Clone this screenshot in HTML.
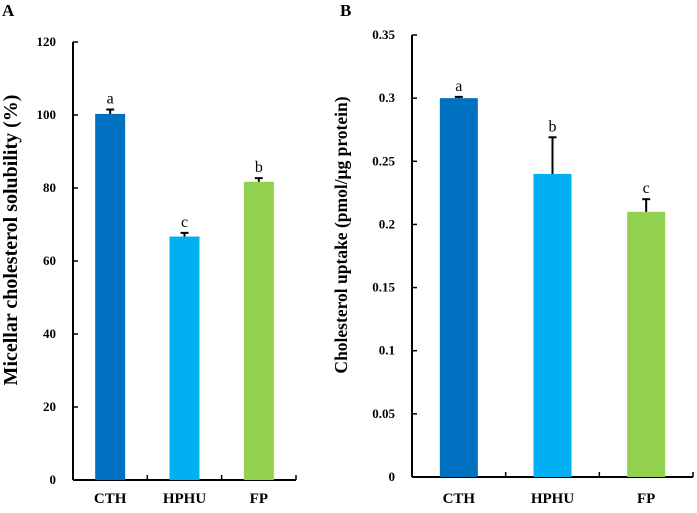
<!DOCTYPE html>
<html><head><meta charset="utf-8"><style>
body{margin:0;background:#fff}
svg text{font-family:"Liberation Serif",serif}
</style></head><body>
<svg id="c" width="697" height="508" xmlns="http://www.w3.org/2000/svg"></svg>
<script>
const categories=["CTH","HPHU","FP"];
const colors=["#0070C0","#00B0F0","#92D050"];
const valuesA=[100.3,66.7,81.7];
const errorsA=[1.2,1.0,1.0];
const lettersA=["a","c","b"];
const ticksA=[0,20,40,60,80,100,120];
const valuesB=[0.3,0.24,0.21];
const errorsB=[0.001,0.029,0.01];
const lettersB=["a","b","c"];
const ticksB=[0,0.05,0.1,0.15,0.2,0.25,0.3,0.35];
const NS="http://www.w3.org/2000/svg";
const svg=document.getElementById('c');
function mk(t,a,txt){const e=document.createElementNS(NS,t);for(const k in a)e.setAttribute(k,a[k]);if(txt!==undefined)e.textContent=txt;svg.appendChild(e);return e;}
function panel(p){
  const y=v=>p.y0-(v/p.max)*(p.y0-p.y1);
  const step=(p.x1-p.x0)/categories.length;
  let e=mk('line',{x1:p.x0,y1:p.y1,x2:p.x0,y2:p.y0,stroke:'#000','stroke-width':2});
  
  e=mk('line',{x1:p.x0,y1:p.y0,x2:p.x1,y2:p.y0,stroke:'#000','stroke-width':2});
  
  p.ticks.forEach(t=>{
    mk('line',{x1:p.x0,y1:y(t),x2:p.x0+5,y2:y(t),stroke:'#000','stroke-width':1.5});
    e=mk('text',{x:p.x0-17,y:y(t)+4,'text-anchor':'end','font-size':13,'font-weight':'bold'},String(t));
    
  });
  for(let i=0;i<=categories.length;i++){mk('line',{x1:p.x0+i*step,y1:p.y0,x2:p.x0+i*step,y2:p.y0-5,stroke:'#000','stroke-width':1.5});}
  categories.forEach((c,i)=>{
    const cx=p.x0+step*(i+0.5);
    const top=y(p.vals[i]);
    e=mk('rect',{x:cx-p.bw/2,y:top,width:p.bw,height:p.y0-top,fill:colors[i]});
    
    const et=y(p.vals[i]+p.errs[i]);
    mk('line',{x1:cx,y1:top,x2:cx,y2:et,stroke:'#000','stroke-width':2});
    mk('line',{x1:cx-4,y1:et,x2:cx+4,y2:et,stroke:'#000','stroke-width':2});
    e=mk('text',{x:cx,y:et-6,'text-anchor':'middle','font-size':16},p.letters[i]);
    
    e=mk('text',{x:cx,y:503,'text-anchor':'middle','font-size':15,'font-weight':'bold'},c);
    
  });
  e=mk('text',{x:0,y:0,'text-anchor':'middle','font-size':p.tfs,'font-weight':'bold',transform:`translate(${p.tx},${p.ty}) rotate(-90)`},p.title);
  
  e=mk('text',{x:p.lx,y:16,'font-size':17,'font-weight':'bold'},p.label);
  
}
panel({id:'panel-a',x0:73,x1:296,y0:480,y1:42,max:120,bw:30,vals:valuesA,errs:errorsA,letters:lettersA,ticks:ticksA,title:'Micellar cholesterol solubility (%)',tx:17,ty:240,tfs:20,lx:2,label:'A'});
panel({id:'panel-b',x0:412,x1:693,y0:477,y1:35,max:0.35,bw:38,vals:valuesB,errs:errorsB,letters:lettersB,ticks:ticksB,title:'Cholesterol uptake (pmol/μg protein)',tx:347,ty:235,tfs:17.5,lx:340,label:'B'});
</script>
</body></html>
